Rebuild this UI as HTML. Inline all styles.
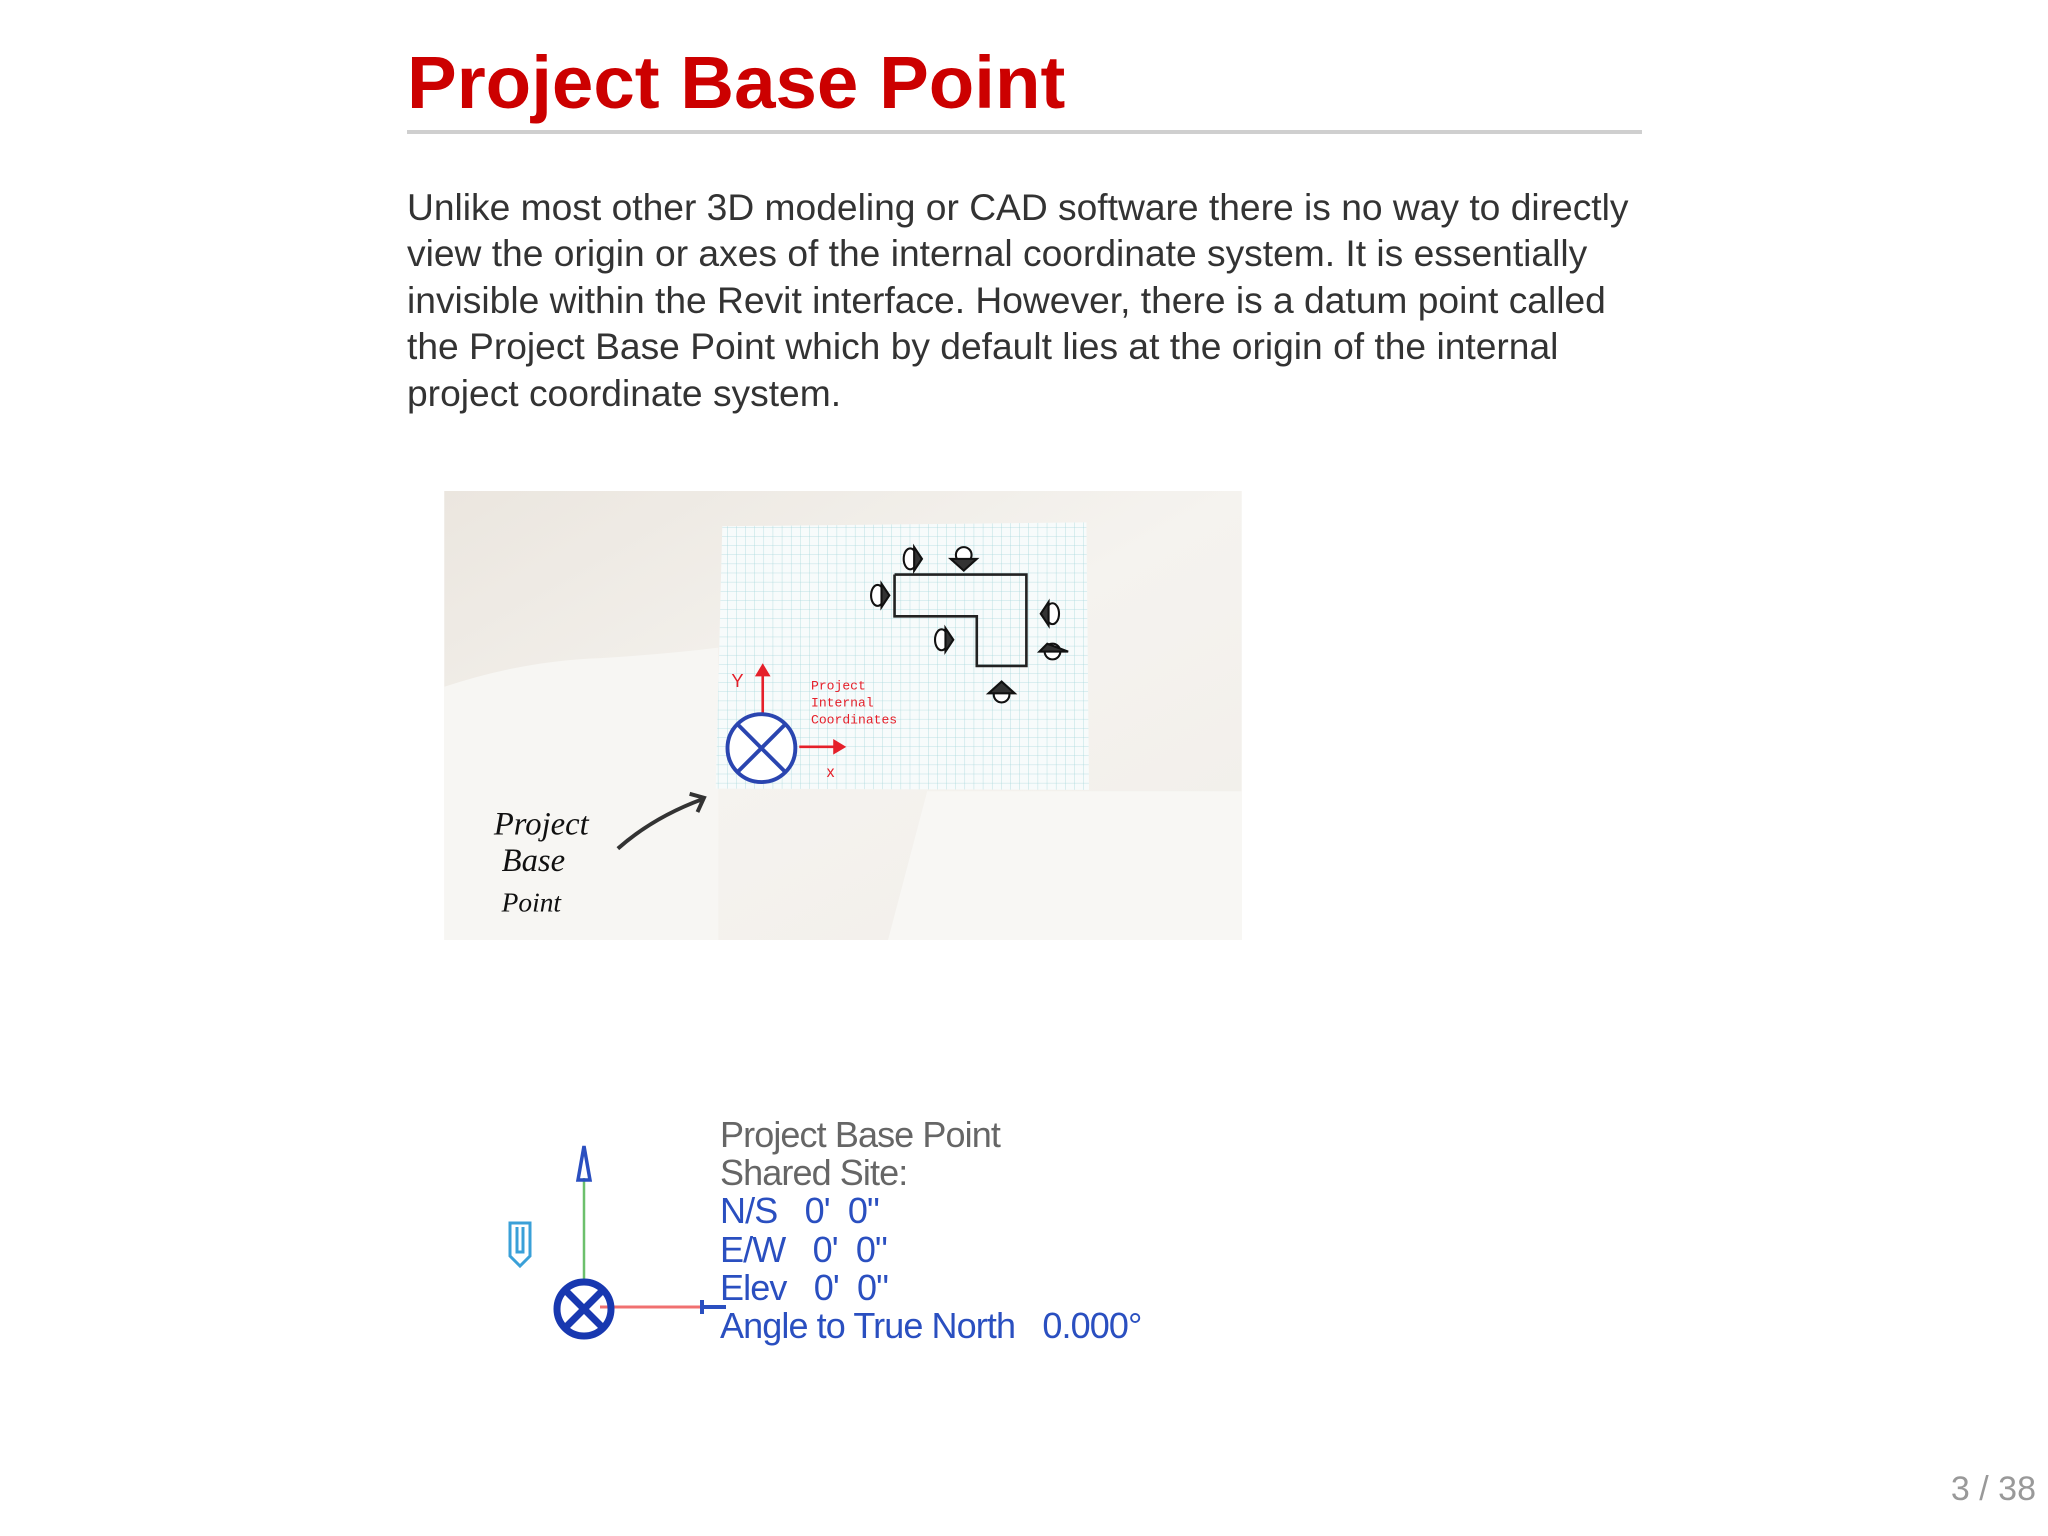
<!DOCTYPE html>
<html><head><meta charset="utf-8">
<style>
html,body{margin:0;padding:0;background:#fff;}
body{width:2048px;height:1536px;position:relative;overflow:hidden;font-family:"Liberation Sans",Arial,sans-serif;}
#title{position:absolute;left:407px;top:38px;font-size:74.5px;font-weight:bold;color:#cc0000;line-height:90px;white-space:nowrap;}
#rule{position:absolute;left:407px;top:130px;width:1235px;height:4px;background:#cfcfcf;}
#para{position:absolute;left:407px;top:184px;font-size:37.2px;line-height:46.4px;color:#333;white-space:nowrap;}
#photo{position:absolute;left:444px;top:491px;}
#info{position:absolute;left:720px;top:1116px;font-size:36px;line-height:38.2px;letter-spacing:-0.9px;white-space:pre;}
#info .g{color:#666;}
#info .b{color:#2a4fc0;}
#diag{position:absolute;left:490px;top:1130px;}
#pn{position:absolute;right:12px;top:1470px;font-size:34px;color:#999;}
</style></head>
<body>
<div id="title">Project Base Point</div>
<div id="rule"></div>
<div id="para">Unlike most other 3D modeling or CAD software there is no way to directly<br>view the origin or axes of the internal coordinate system. It is essentially<br>invisible within the Revit interface. However, there is a datum point called<br>the Project Base Point which by default lies at the origin of the internal<br>project coordinate system.</div>

<svg id="photo" width="798" height="449" viewBox="0 0 611 344">
  <defs>
    <linearGradient id="bg" x1="0" y1="0" x2="1" y2="1">
      <stop offset="0" stop-color="#ebe6df"/><stop offset="0.5" stop-color="#f5f3ef"/><stop offset="1" stop-color="#f1eee9"/>
    </linearGradient>
    <pattern id="grid" width="7" height="7" patternUnits="userSpaceOnUse">
      <path d="M7 0V7M0 7H7" stroke="#a9d8dc" stroke-width="0.6" fill="none"/>
    </pattern>
  </defs>
  <rect width="611" height="344" fill="url(#bg)"/>
  <path d="M0 150 Q60 130 120 128 Q170 125 210 120 L210 344 L0 344Z" fill="#f7f6f3"/>
  <path d="M370 230 L340 344 L611 344 L611 230Z" fill="#f8f7f4"/>
  <polygon points="213,27 492,24 494,229 208,228" fill="#f7fbfb"/>
  <polygon points="213,27 492,24 494,229 208,228" fill="url(#grid)"/>
  <g fill="none" stroke="#222" stroke-width="2">
    <polyline points="345,64 446,64 446,134 408,134 408,96 345,96 345,64"/>
  </g>
  <g fill="#fff" stroke="#111" stroke-width="1.6">
    <g transform="translate(357,52)"><ellipse rx="5" ry="8"/><path d="M3,-9 L9,0 L3,9Z" fill="#333"/></g>
    <g transform="translate(398,49)"><ellipse rx="6" ry="6"/><path d="M-10,3 L10,3 L0,12Z" fill="#333"/></g>
    <g transform="translate(332,80)"><ellipse rx="5" ry="8"/><path d="M3,-9 L9,0 L3,9Z" fill="#333"/></g>
    <g transform="translate(466,94)"><ellipse rx="5" ry="8"/><path d="M-3,-9 L-9,0 L-3,9Z" fill="#333"/></g>
    <g transform="translate(381,114)"><ellipse rx="5" ry="8"/><path d="M3,-9 L9,0 L3,9Z" fill="#333"/></g>
    <g transform="translate(466,123)"><ellipse rx="6" ry="6"/><path d="M-10,0 L12,0 L-4,-6Z" fill="#333"/></g>
    <g transform="translate(427,156)"><ellipse rx="6" ry="6"/><path d="M-10,-1 L10,-1 L0,-10Z" fill="#333"/></g>
  </g>
  <g stroke="#e5202a" stroke-width="2" fill="#e5202a">
    <line x1="244" y1="175" x2="244" y2="140"/><path d="M238,142 L244,132 L250,142Z" stroke="none"/>
    <line x1="272" y1="196" x2="300" y2="196"/><path d="M298,190 L308,196 L298,202Z" stroke="none"/>
  </g>
  <text x="220" y="150" font-size="14" fill="#e5202a" font-family="Liberation Sans">Y</text>
  <text x="293" y="219" font-size="12" fill="#e5202a" font-family="Liberation Sans">x</text>
  <text x="281" y="152" font-size="10" fill="#e5202a" font-family="Liberation Mono"><tspan x="281">Project</tspan><tspan x="281" dy="13">Internal</tspan><tspan x="281" dy="13">Coordinates</tspan></text>
  <g fill="#fff" stroke="#2a45b0" stroke-width="3">
    <circle cx="243" cy="197" r="26"/>
    <line x1="225" y1="179" x2="261" y2="215"/><line x1="261" y1="179" x2="225" y2="215"/>
  </g>
  <path d="M133,274 Q160,250 198,236 M188,232 L199,235 L194,246" fill="none" stroke="#333" stroke-width="3"/>
  <text font-size="25" fill="#111" font-family="Liberation Serif" font-style="italic"><tspan x="38" y="263">Project</tspan><tspan x="44" y="291">Base</tspan><tspan x="44" y="322" font-size="21">Point</tspan></text>
</svg>

<svg id="diag" width="240" height="230" viewBox="0 0 240 230">
  <line x1="94" y1="48" x2="94" y2="155" stroke="#6cc06c" stroke-width="2.5"/>
  <path d="M88,50 L94,16 L100,50Z" fill="none" stroke="#2a4fc0" stroke-width="3.5"/>
  <line x1="110" y1="177" x2="225" y2="177" stroke="#f07070" stroke-width="3"/>
  <path d="M212,170 L212,184 M212,177 L236,177" stroke="#2a4fc0" stroke-width="4"/>
  <circle cx="94" cy="179" r="27" fill="none" stroke="#1838b0" stroke-width="7"/>
  <line x1="76" y1="161" x2="112" y2="197" stroke="#1838b0" stroke-width="7"/>
  <line x1="112" y1="161" x2="76" y2="197" stroke="#1838b0" stroke-width="7"/>
  <path d="M20,93 L20,126 L30,136 L40,126 L40,93Z M27,97 L27,122 L33,122 L33,97" fill="none" stroke="#3aa0d8" stroke-width="3"/>
</svg>

<div id="info"><span class="g">Project Base Point</span>
<span class="g">Shared Site:</span>
<span class="b">N/S   0'  0"</span>
<span class="b">E/W   0'  0"</span>
<span class="b">Elev   0'  0"</span>
<span class="b">Angle to True North   0.000°</span></div>

<div id="pn">3 / 38</div>
</body></html>
